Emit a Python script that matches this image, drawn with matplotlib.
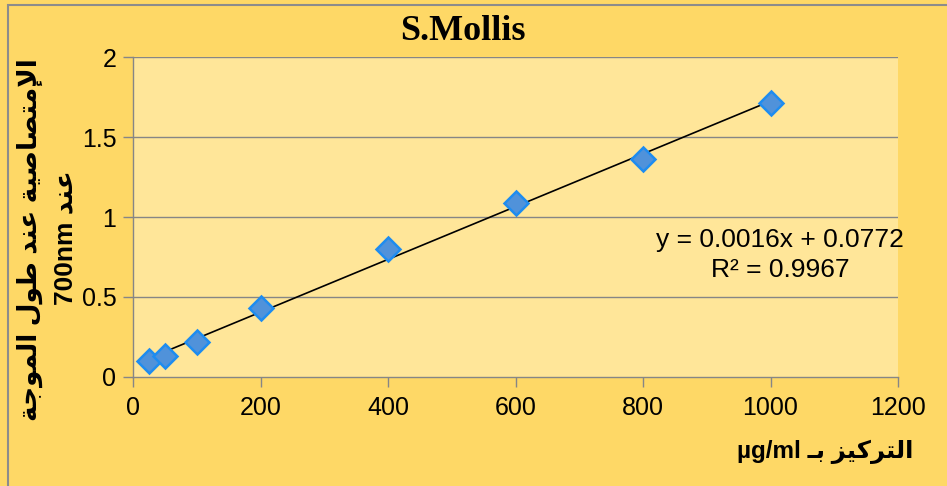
import numpy as np
import matplotlib
matplotlib.use("Agg")
import matplotlib.pyplot as plt
from matplotlib.patches import Rectangle

# ---------------- data ----------------
concentration = [25, 50, 100, 200, 400, 600, 800, 1000]
absorbance = [0.10, 0.13, 0.22, 0.43, 0.80, 1.09, 1.36, 1.71]
x_ticks = [0, 200, 400, 600, 800, 1000, 1200]
y_ticks = [0, 0.5, 1, 1.5, 2]
y_tick_labels = ["0", "0.5", "1", "1.5", "2"]
title_text = "S.Mollis"
eq_text = "y = 0.0016x + 0.0772"
r2_text = "R\u00b2 = 0.9967"
ylabel_line1 = "الإمتصاصية عند طول الموجة"
ylabel_line2_ar = "عند"
ylabel_line2_lat = "700nm"
xlabel_ar = "التركيز بـ"
xlabel_lat = "µg/ml"

# ------------- minimal Arabic shaping (presentation forms) -------------
FORMS = {
    'ا': ('\uFE8D', '\uFE8E', None, None),
    'إ': ('\uFE87', '\uFE88', None, None),
    'ل': ('\uFEDD', '\uFEDE', '\uFEDF', '\uFEE0'),
    'م': ('\uFEE1', '\uFEE2', '\uFEE3', '\uFEE4'),
    'ت': ('\uFE95', '\uFE96', '\uFE97', '\uFE98'),
    'ص': ('\uFEB9', '\uFEBA', '\uFEBB', '\uFEBC'),
    'ي': ('\uFEF1', '\uFEF2', '\uFEF3', '\uFEF4'),
    'ة': ('\uFE93', '\uFE94', None, None),
    'ع': ('\uFEC9', '\uFECA', '\uFECB', '\uFECC'),
    'ن': ('\uFEE5', '\uFEE6', '\uFEE7', '\uFEE8'),
    'د': ('\uFEA9', '\uFEAA', None, None),
    'ط': ('\uFEC1', '\uFEC2', '\uFEC3', '\uFEC4'),
    'و': ('\uFEED', '\uFEEE', None, None),
    'ج': ('\uFE9D', '\uFE9E', '\uFE9F', '\uFEA0'),
    'ر': ('\uFEAD', '\uFEAE', None, None),
    'ك': ('\uFED9', '\uFEDA', '\uFEDB', '\uFEDC'),
    'ز': ('\uFEAF', '\uFEB0', None, None),
    'ب': ('\uFE8F', '\uFE90', '\uFE91', '\uFE92'),
    'ـ': ('\u0640', '\u0640', '\u0640', '\u0640'),
}
LAMALEF = {'ا': ('\uFEFB', '\uFEFC'), 'إ': ('\uFEF9', '\uFEFA')}


def joins_next(c):
    return c in FORMS and FORMS[c][2] is not None


def joins_prev(c):
    return c in FORMS and FORMS[c][1] is not None


def shape(s):
    out = []
    i = 0
    n = len(s)
    while i < n:
        c = s[i]
        prev_join = i > 0 and joins_next(s[i - 1])
        if c == 'ل' and i + 1 < n and s[i + 1] in LAMALEF:
            iso, fin = LAMALEF[s[i + 1]]
            out.append(fin if prev_join else iso)
            i += 2
            continue
        if c not in FORMS:
            out.append(c)
            i += 1
            continue
        p = prev_join and joins_prev(c)
        q = i + 1 < n and joins_next(c) and joins_prev(s[i + 1])
        iso, fin, ini, med = FORMS[c]
        if p and q:
            out.append(med)
        elif p:
            out.append(fin)
        elif q:
            out.append(ini)
        else:
            out.append(iso)
        i += 1
    return ''.join(out)


def visual(s):
    return shape(s)[::-1]


# ---------------- figure ----------------
W, H = 947, 486
fig = plt.figure(figsize=(W / 100, H / 100), dpi=100)
outer_bg = '#FED866'
inner_bg = '#FFE699'
fig.patch.set_facecolor(outer_bg)
fig.patches.append(Rectangle((8 / W, -0.05), 1.1, 1.05 - 5 / H, transform=fig.transFigure,
                             facecolor='none', edgecolor='#8C8C8C', linewidth=1.5))

ax = fig.add_axes([133 / W, 1 - 377 / H, (898 - 133) / W, (377 - 57) / H])
ax.set_facecolor(inner_bg)
ax.set_xlim(0, 1200)
ax.set_ylim(0, 2)
ax.set_xticks(x_ticks)
ax.set_xticklabels([str(v) for v in x_ticks])
ax.set_yticks(y_ticks)
ax.set_yticklabels(y_tick_labels)
grid_c = '#868686'
for y in y_ticks[1:]:
    ax.axhline(y, color=grid_c, linewidth=1.0, zorder=1)
for s in ['top', 'right']:
    ax.spines[s].set_visible(False)
for s in ['left', 'bottom']:
    ax.spines[s].set_color(grid_c)
    ax.spines[s].set_linewidth(1.0)
ax.tick_params(axis='both', direction='out', length=7, color=grid_c, width=1.0,
               labelsize=18, labelcolor='black')
ax.tick_params(axis='x', pad=7)
ax.tick_params(axis='y', pad=5)
for lab in ax.get_xticklabels() + ax.get_yticklabels():
    lab.set_fontfamily('Liberation Sans')

# trendline
coef = np.polyfit(concentration, absorbance, 1)
xs = np.array([min(concentration), max(concentration)])
ax.plot(xs, np.polyval(coef, xs), color='black', linewidth=1.2, zorder=3)

# markers
ax.plot(concentration, absorbance, linestyle='none', marker='D', markersize=12,
        markerfacecolor='#5092DA', markeredgecolor='#1E8CF0', markeredgewidth=1.8,
        zorder=4, clip_on=False)

# equation
fig.text(780 / W, 1 - 240 / H, eq_text, ha='center', va='center', fontsize=19,
         family='Liberation Sans', color='black')
fig.text(780 / W, 1 - 270 / H, r2_text, ha='center', va='center', fontsize=19,
         family='Liberation Sans', color='black')

# title
fig.text(463 / W, 1 - 31 / H, title_text, ha='center', va='center', fontsize=26,
         family='Liberation Serif', weight='bold', color='black')

fam = ['Liberation Sans', 'DejaVu Sans']
# y label (two lines, rotated)
fig.text(30 / W, 1 - 240 / H, visual(ylabel_line1), rotation=90, ha='center', va='center',
         fontsize=19, family=fam, weight='bold', color='black')
fig.text(65 / W, 1 - 238 / H, ylabel_line2_lat + ' ' + visual(ylabel_line2_ar), rotation=90,
         ha='center', va='center', fontsize=19, family=fam, weight='bold', color='black')

# x label
fig.text(825 / W, 1 - 452 / H, xlabel_lat + ' ' + visual(xlabel_ar), ha='center', va='center',
         fontsize=17.5, family=fam, weight='bold', color='black')

fig.savefig('out.png', dpi=100, facecolor=fig.get_facecolor())
